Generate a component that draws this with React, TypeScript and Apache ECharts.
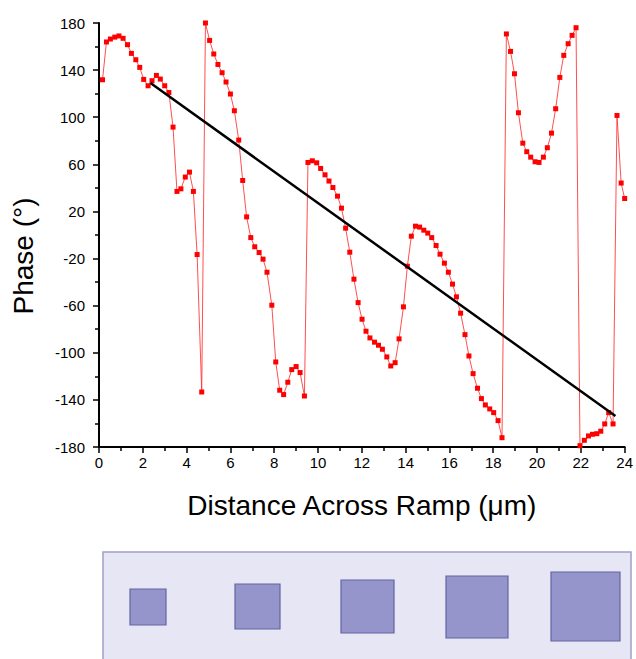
import React, { useEffect, useRef } from "react";
import * as echarts from "echarts";

// Distance across ramp (µm) and measured phase (°)
const distance = [
  0.16, 0.34, 0.52, 0.72, 0.91, 1.1, 1.3, 1.48, 1.68, 1.86, 2.04, 2.24, 2.42, 2.62, 2.8, 3.0, 3.19, 3.38,
  3.56, 3.74, 3.94, 4.13, 4.31, 4.48, 4.69, 4.86, 5.05, 5.24, 5.43, 5.62, 5.8, 6.0, 6.18, 6.38, 6.56,
  6.74, 6.93, 7.11, 7.31, 7.49, 7.67, 7.89, 8.07, 8.25, 8.43, 8.62, 8.8, 9.0, 9.18, 9.38, 9.54, 9.74,
  9.94, 10.12, 10.32, 10.5, 10.68, 10.89, 11.07, 11.26, 11.45, 11.64, 11.83, 12.01, 12.19, 12.37,
  12.58, 12.76, 12.94, 13.14, 13.32, 13.52, 13.7, 13.9, 14.08, 14.26, 14.45, 14.64, 14.83, 15.01,
  15.19, 15.39, 15.57, 15.77, 15.95, 16.14, 16.32, 16.51, 16.71, 16.89, 17.08, 17.28, 17.46, 17.64,
  17.84, 18.02, 18.22, 18.4, 18.6, 18.79, 18.97, 19.15, 19.35, 19.53, 19.71, 19.91, 20.09, 20.29,
  20.47, 20.66, 20.85, 21.04, 21.22, 21.42, 21.6, 21.78, 21.96, 22.16, 22.35, 22.53, 22.73, 22.91,
  23.09, 23.27, 23.47, 23.65, 23.84, 24.0,
];
const phase = [
  131.8, 163.9, 166.4, 168, 169, 167, 161.6, 154.2, 148.8, 142.3, 132.1, 126.7, 131, 135.5, 132.4, 126.7, 121, 91.6,
  37, 39.2, 49.2, 53.4, 37, -16.6, -133.3, 180, 165.2, 153.7, 144.8, 137.8, 129.9, 119.7, 105.5, 80.6, 46.3,
  15.4, -2.2, -10, -14.9, -20.5, -31.6, -59.6, -107.8, -131.8, -135.5, -125, -114.3, -111.7, -116.8, -136.7, 61.6, 63,
  61.3, 56.5, 51.1, 45.8, 40.3, 33, 22.8, 5.8, -14.6, -37.5, -57.4, -71.5, -81.7, -87.4,
  -91, -93.6, -97, -103.5, -111.2, -108.4, -88.2, -61, -26.5, -1, 7.5, 6.7, 4.1, 1.6,
  -2.2, -8.9, -16.3, -23.9, -31.6, -41.7, -52.5, -66.4, -84.6, -102.7, -117.7, -130.1, -138.9, -144.3,
  -147.7, -150.8, -157.6, -172.1, 170.7, 155.9, 136.9, 103.8, 78, 70.7, 66.1, 62.2, 61.6, 66.1,
  74.1, 86.5, 107.2, 133.8, 152.5, 162.4, 169.5, 176, -178.9, -174.3, -170.6, -169.2, -168.7, -166.6,
  -160.4, -150.8, -160.4, 101.5, 44.1, 31,
];
// Linear fit (black line) end points
const fitX = [2.35, 23.58];
const fitY = [129, -153.6];

const xTickLabels = ["0", "2", "4", "6", "8", "10", "12", "14", "16", "18", "20", "22", "24"];
const yTickLabels = ["-180", "-140", "-100", "-60", "-20", "20", "60", "100", "140", "180"];

export default function App() {
  const ref = useRef<HTMLDivElement>(null);
  useEffect(() => {
    if (!ref.current) return;
    const chart = echarts.init(ref.current, undefined, { renderer: "svg" });
    const font = "Arial, 'Liberation Sans', sans-serif";
    const axisCommon = {
      axisLine: { show: true, onZero: false, lineStyle: { color: "#000", width: 2 } },
      axisTick: { show: true, inside: false, length: 6, lineStyle: { color: "#000", width: 1.5 } },
      minorTick: { show: true, splitNumber: 2, length: 4, lineStyle: { color: "#000", width: 1.5 } },
      splitLine: { show: false },
    };
    const squares = [
      { x: 130, y: 589, s: 36 },
      { x: 235, y: 584, s: 45 },
      { x: 341, y: 580, s: 53 },
      { x: 446, y: 576, s: 62 },
      { x: 551, y: 572, s: 69 },
    ];
    chart.setOption({
      animation: false,
      backgroundColor: "#ffffff",
      grid: { left: 99, right: 11, top: 23, bottom: 212, containLabel: false },
      xAxis: {
        type: "value",
        min: 0,
        max: 24,
        interval: 2,
        ...axisCommon,
        axisLabel: {
          color: "#000",
          fontSize: 15,
          fontFamily: font,
          margin: 8,
          formatter: (v: number) => xTickLabels[Math.round(v / 2)] ?? String(v),
        },
        name: "Distance Across Ramp (\u03bcm)",
        nameLocation: "middle",
        nameGap: 44,
        nameTextStyle: { color: "#000", fontSize: 28, fontFamily: font },
      },
      yAxis: {
        type: "value",
        min: -180,
        max: 180,
        interval: 40,
        ...axisCommon,
        axisLabel: {
          color: "#000",
          fontSize: 15,
          fontFamily: font,
          margin: 14,
          formatter: (v: number) => yTickLabels[Math.round((v + 180) / 40)] ?? String(v),
        },
        name: "Phase (\u00b0)",
        nameLocation: "middle",
        nameGap: 62,
        nameTextStyle: { color: "#000", fontSize: 28, fontFamily: font, padding: [0, 42, 0, 0] },
      },
      series: [
        {
          type: "line",
          data: distance.map((d, i) => [d, phase[i]]),
          symbol: "rect",
          symbolSize: 5,
          showSymbol: true,
          itemStyle: { color: "#ff0000" },
          lineStyle: { color: "#ff3030", width: 1, opacity: 0.85 },
          z: 2,
        },
        {
          type: "line",
          data: fitX.map((x, i) => [x, fitY[i]]),
          symbol: "none",
          lineStyle: { color: "#000", width: 2.5 },
          z: 3,
        },
      ],
      graphic: [
        {
          type: "rect",
          shape: { x: 103, y: 552, width: 528, height: 120 },
          style: { fill: "#e6e6f4", stroke: "#a0a0c8", lineWidth: 1.5 },
        },
        ...squares.map((q) => ({
          type: "rect",
          shape: { x: q.x, y: q.y, width: q.s, height: q.s },
          style: { fill: "#9595cc", stroke: "#6464a4", lineWidth: 1.2 },
        })),
      ],
    });
    return () => chart.dispose();
  }, []);
  return (
    <div
      ref={ref}
      style={{ position: "fixed", left: 0, top: 0, width: 636, height: 659, overflow: "hidden" }}
    />
  );
}
